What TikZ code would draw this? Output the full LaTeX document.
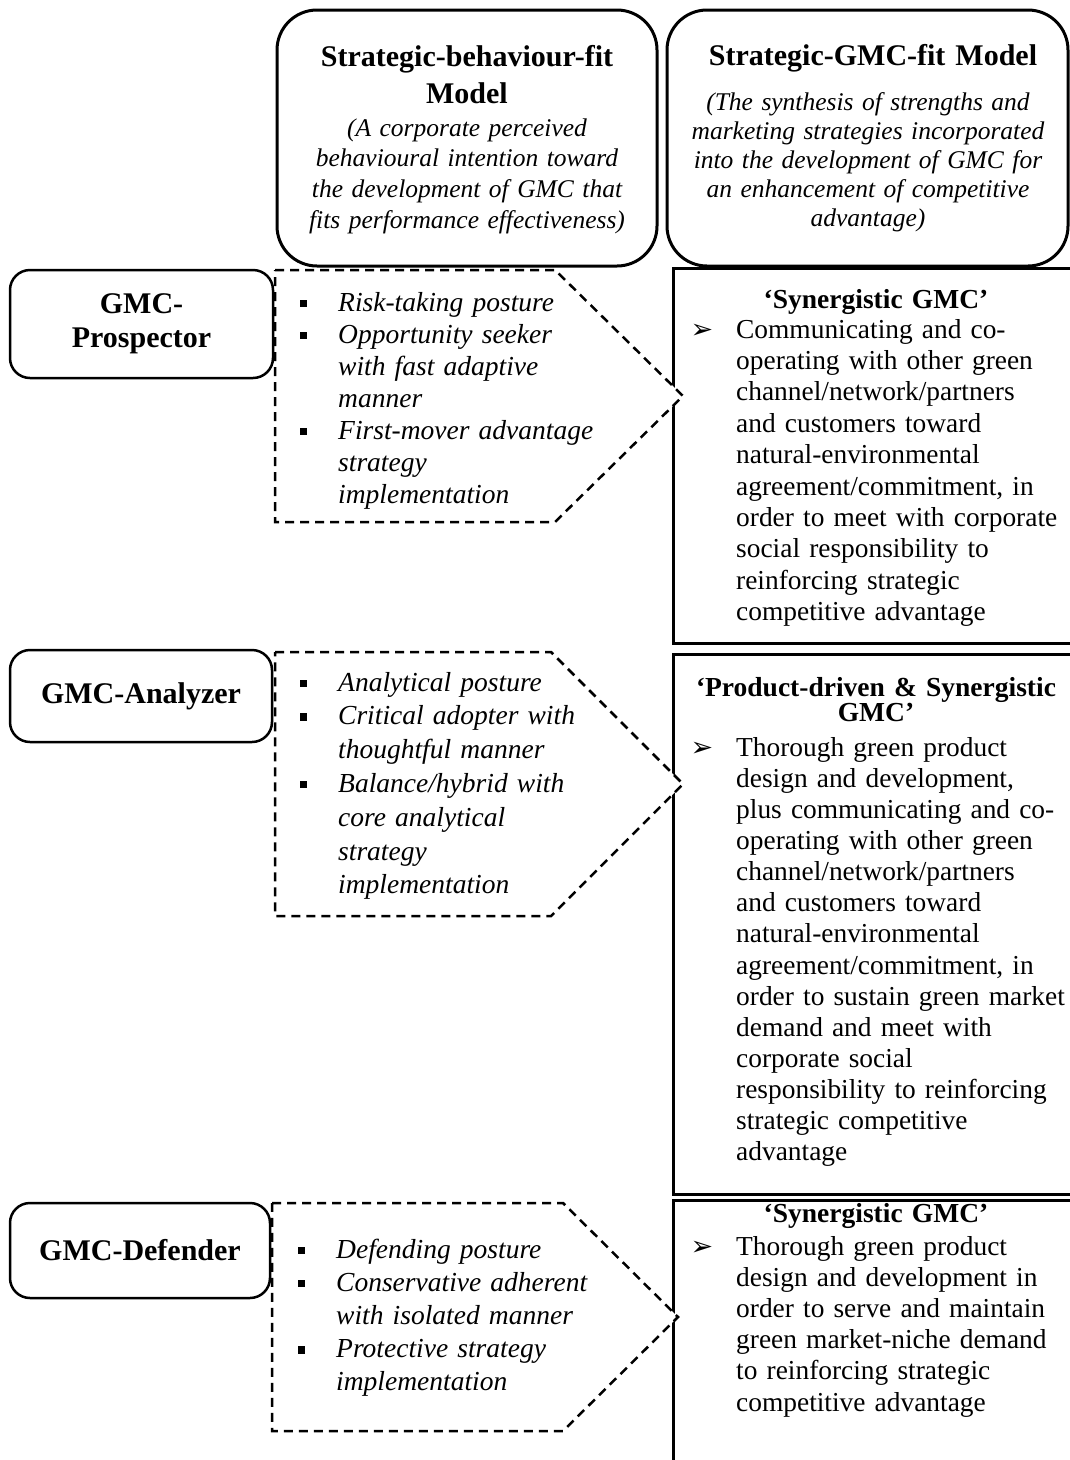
\documentclass[tikz,border=0pt]{standalone}
\usepackage{fontspec}
\setmainfont{Liberation Serif}
\newfontfamily\symfont{DejaVu Sans}
% square bullet and arrowhead bullet used in the lists
\newcommand{\sqbul}{\leavevmode\llap{\rule[4pt]{7.5pt}{7.5pt}\hspace{31pt}}}
\newcommand{\arrbul}{\leavevmode\llap{{\symfont\fontsize{27pt}{27pt}\selectfont ➢}\hspace{23pt}}}
\begin{document}
\begin{tikzpicture}[x=1pt,y=-1pt,
  hdrbox/.style={draw, line width=3pt, rounded corners=40pt, inner sep=0pt},
  lblbox/.style={draw, line width=2.5pt, rounded corners=20pt, inner sep=0pt,
    align=center, font=\fontsize{30pt}{34pt}\selectfont\bfseries},
  fitbox/.style={draw, line width=2.5pt, inner sep=0pt, anchor=north west},
  dashbox/.style={draw, fill=white, line width=2.5pt, dash pattern=on 9pt off 6pt},
  hdrtitle/.style={anchor=base, inner sep=0pt, text width=400pt, align=center,
    font=\fontsize{30pt}{37pt}\selectfont\bfseries},
  hdrnote/.style={anchor=base, inner sep=0pt, text width=400pt, align=center,
    font=\fontsize{25.5pt}{30.7pt}\selectfont\itshape},
  fittitle/.style={anchor=base, inner sep=0pt, text width=400pt, align=center,
    font=\fontsize{27.5pt}{25pt}\selectfont\bfseries},
  fitbody/.style={anchor=base west, inner sep=0pt, text width=400pt, align=left,
    font=\fontsize{27.4pt}{31.4pt}\selectfont},
  items/.style={anchor=base west, inner sep=0pt, text width=320pt, align=left,
    font=\fontsize{27.5pt}{32pt}\selectfont\itshape}]

\useasboundingbox (0,0) rectangle (1070,1460);
\clip (0,0) rectangle (1070,1460);

% column headers
\node[hdrbox, minimum width=380pt, minimum height=256pt] (hA) at (467,138) {};
\node[hdrbox, minimum width=401pt, minimum height=256pt] (hB) at (867.5,138) {};
\node[hdrtitle] (hAt) at (467,66) {Strategic-behaviour-fit\\Model};
\node[hdrnote] (hAn) at (467,136) {(A corporate perceived\\behavioural intention toward\\the development of GMC that\\fits performance effectiveness)};
\node[hdrtitle] (hBt) at (873,65) {Strategic-GMC-fit Model};
\node[hdrnote, font=\fontsize{25.5pt}{29pt}\selectfont\itshape] (hBn) at (868,110) {(The synthesis of strengths and\\marketing strategies incorporated\\into the development of GMC for\\an enhancement of competitive\\advantage)};

% fit boxes on the right (running off the page edge)
\node[fitbox, minimum width=420pt, minimum height=375pt] (r1) at (672,267) {};
\node[fitbox, minimum width=420pt, minimum height=540pt] (r2) at (672,653) {};
\node[fitbox, minimum width=420pt, minimum height=300pt] (r3) at (672,1199) {};

% dashed arrow-shaped behaviour panels
\coordinate (p1a) at (275,270);
\coordinate (p1b) at (555,270);
\coordinate (p1c) at (683,396);
\coordinate (p1d) at (555,522);
\coordinate (p1e) at (275,522);
\draw[dashbox] (p1a) -- (p1b) -- (p1c) -- (p1d) -- (p1e) -- cycle;

\coordinate (p2a) at (275,652);
\coordinate (p2b) at (551,652);
\coordinate (p2c) at (683,784);
\coordinate (p2d) at (551,916);
\coordinate (p2e) at (275,916);
\draw[dashbox] (p2a) -- (p2b) -- (p2c) -- (p2d) -- (p2e) -- cycle;

\coordinate (p3a) at (272,1203);
\coordinate (p3b) at (563,1203);
\coordinate (p3c) at (678,1317);
\coordinate (p3d) at (563,1431);
\coordinate (p3e) at (272,1431);
\draw[dashbox] (p3a) -- (p3b) -- (p3c) -- (p3d) -- (p3e) -- cycle;

% strategy type labels
\node[lblbox, minimum width=263pt, minimum height=108pt] (pro) at (141.5,324) {GMC-\\Prospector};
\node[lblbox, minimum width=262pt, minimum height=92pt] (ana) at (141,696) {GMC-Analyzer};
\node[lblbox, minimum width=260pt, minimum height=95pt] (def) at (140,1250.5) {GMC-Defender};

% behaviour items
\node[items] (i1) at (338,311) {\sqbul Risk-taking posture\\\sqbul Opportunity seeker\\with fast adaptive\\manner\\\sqbul First-mover advantage\\strategy\\implementation};
\node[items, font=\fontsize{27.5pt}{33.8pt}\selectfont\itshape] (i2) at (338,691) {\sqbul Analytical posture\\\sqbul Critical adopter with\\thoughtful manner\\\sqbul Balance/hybrid with\\core analytical\\strategy\\implementation};
\node[items, font=\fontsize{27.5pt}{33.2pt}\selectfont\itshape] (i3) at (336,1258) {\sqbul Defending posture\\\sqbul Conservative adherent\\with isolated manner\\\sqbul Protective strategy\\implementation};

% GMC fit descriptions
\node[fittitle] (t1) at (876,308) {‘Synergistic GMC’};
\node[fitbody] (b1) at (736,338) {\arrbul Communicating and co-\\operating with other green\\channel/network/partners\\and customers toward\\natural-environmental\\agreement/commitment, in\\order to meet with corporate\\social responsibility to\\reinforcing strategic\\competitive advantage};

\node[fittitle] (t2) at (876,696) {‘Product-driven \& Synergistic\\GMC’};
\node[fitbody, font=\fontsize{27.4pt}{31.15pt}\selectfont] (b2) at (736,756) {\arrbul Thorough green product\\design and development,\\plus communicating and co-\\operating with other green\\channel/network/partners\\and customers toward\\natural-environmental\\agreement/commitment, in\\order to sustain green market\\demand and meet with\\corporate social\\responsibility to reinforcing\\strategic competitive\\advantage};

\node[fittitle] (t3) at (876,1222) {‘Synergistic GMC’};
\node[fitbody, font=\fontsize{27.4pt}{31.2pt}\selectfont] (b3) at (736,1255) {\arrbul Thorough green product\\design and development in\\order to serve and maintain\\green market-niche demand\\to reinforcing strategic\\competitive advantage};
\end{tikzpicture}
\end{document}
